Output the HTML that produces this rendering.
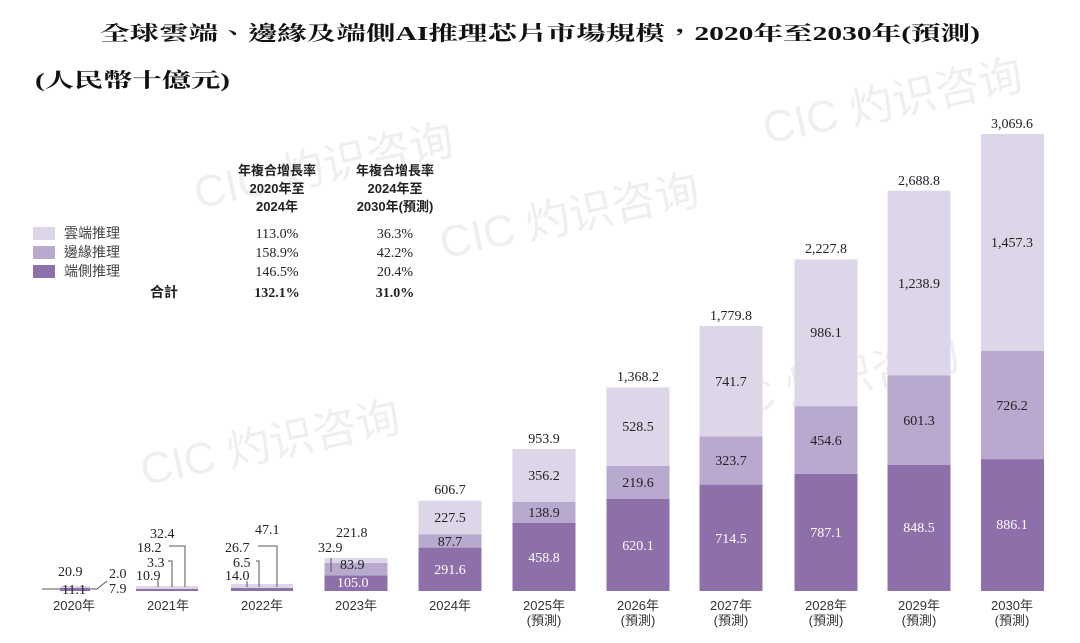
<!DOCTYPE html>
<html><head><meta charset="utf-8"><style>
html,body{margin:0;padding:0;background:#fff;}
svg{display:block;}
.t{font-family:"Liberation Serif","Noto Serif CJK SC",serif;font-size:14px;fill:#222;}
.w{font-family:"Liberation Serif",serif;font-size:14px;fill:#fff;}
.y{font-family:"Liberation Sans","Noto Sans CJK TC",sans-serif;font-size:13px;fill:#333;}
.wm{font-family:"Liberation Sans","Noto Sans CJK SC",sans-serif;fill:#efefef;}
</style></head><body>
<svg width="1080" height="643" viewBox="0 0 1080 643" xmlns="http://www.w3.org/2000/svg">
<g class="wm" font-size="44" transform="rotate(-12)">
<text x="150" y="245">CIC 灼识咨询</text>
<text x="380" y="345">CIC 灼识咨询</text>
<text x="40" y="505">CIC 灼识咨询</text>
<text x="720" y="300">CIC 灼识咨询</text>
<text x="600" y="560">CIC 灼识咨询</text>
<text x="800" y="145">CIC 灼识咨询</text>
</g>
<text x="540" y="40" text-anchor="middle" font-family="'Liberation Serif','Noto Serif CJK TC',serif" font-size="20" font-weight="bold" fill="#111" textLength="880" lengthAdjust="spacingAndGlyphs">全球雲端、邊緣及端側AI推理芯片市場規模，2020年至2030年(預測)</text>
<text x="35" y="87" font-family="'Liberation Serif','Noto Serif CJK TC',serif" font-size="20" font-weight="bold" fill="#111" textLength="195" lengthAdjust="spacingAndGlyphs">(人民幣十億元)</text>

<g font-family="'Liberation Sans','Noto Sans CJK TC',sans-serif" font-size="13" font-weight="bold" fill="#222" text-anchor="middle">
<text x="277" y="175">年複合增長率</text><text x="277" y="193">2020年至</text><text x="277" y="211">2024年</text>
<text x="395" y="175">年複合增長率</text><text x="395" y="193">2024年至</text><text x="395" y="211">2030年(預測)</text>
</g>
<rect x="33" y="227" width="22" height="13" fill="#dcd6e8"/>
<rect x="33" y="246" width="22" height="13" fill="#b9a9cf"/>
<rect x="33" y="265" width="22" height="13" fill="#8d6fa9"/>
<g font-family="'Liberation Sans','Noto Sans CJK TC',sans-serif" font-size="14" fill="#444">
<text x="64" y="238">雲端推理</text><text x="64" y="257">邊緣推理</text><text x="64" y="276">端側推理</text>
<text x="150" y="297" font-weight="bold" fill="#222">合計</text>
</g>
<g class="t" text-anchor="middle">
<text x="277" y="238">113.0%</text><text x="395" y="238">36.3%</text>
<text x="277" y="257">158.9%</text><text x="395" y="257">42.2%</text>
<text x="277" y="276">146.5%</text><text x="395" y="276">20.4%</text>
<text x="277" y="297" font-weight="bold">132.1%</text><text x="395" y="297" font-weight="bold">31.0%</text>
</g>

<rect x="60" y="588" width="30" height="3" fill="#8d6fa9"/>
<rect x="60" y="586" width="30" height="2" fill="#dcd6e8"/>
<line x1="42" y1="589" x2="60" y2="589" stroke="#555"/><line x1="90" y1="589" x2="97" y2="589" stroke="#555"/>
<line x1="97" y1="589" x2="107" y2="581" stroke="#555"/>
<g class="t"><text x="58" y="576">20.9</text><text x="62" y="594">11.1</text><text x="109" y="578">2.0</text><text x="109" y="593">7.9</text></g>

<rect x="136" y="589" width="62" height="2" fill="#8d6fa9"/><rect x="136" y="586" width="62" height="3" fill="#dcd6e8"/>
<g stroke="#555" fill="none"><path d="M158 587V580"/><path d="M172 587V561H168"/><path d="M185 587V546H169"/></g>
<g class="t"><text x="150" y="538">32.4</text><text x="137" y="552">18.2</text><text x="147" y="567">3.3</text><text x="136" y="580">10.9</text></g>

<rect x="231" y="588" width="62" height="3" fill="#8d6fa9"/><rect x="231" y="584" width="62" height="4" fill="#dcd6e8"/>
<g stroke="#555" fill="none"><path d="M247 587V581"/><path d="M259 587V561H256"/><path d="M277 587V546H258"/></g>
<g class="t"><text x="255" y="534">47.1</text><text x="225" y="552">26.7</text><text x="233" y="567">6.5</text><text x="225" y="580">14.0</text></g>

<rect x="324.5" y="575.4" width="63" height="15.6" fill="#8d6fa9"/>
<rect x="324.5" y="562.9" width="63" height="12.5" fill="#b9a9cf"/>
<rect x="324.5" y="558" width="63" height="4.9" fill="#dcd6e8"/>
<line x1="331" y1="572" x2="331" y2="558" stroke="#555"/>
<g class="t"><text x="336" y="537">221.8</text><text x="318" y="552">32.9</text><text x="340" y="569">83.9</text></g>
<text class="w" x="337" y="587">105.0</text>

<g>
<rect x="418.5" y="547.6" width="63" height="43.4" fill="#8d6fa9"/><rect x="418.5" y="534.5" width="63" height="13.1" fill="#b9a9cf"/><rect x="418.5" y="500.6" width="63" height="33.9" fill="#dcd6e8"/>
<rect x="512.5" y="522.7" width="63" height="68.3" fill="#8d6fa9"/><rect x="512.5" y="502" width="63" height="20.7" fill="#b9a9cf"/><rect x="512.5" y="449" width="63" height="53" fill="#dcd6e8"/>
<rect x="606.5" y="498.7" width="63" height="92.3" fill="#8d6fa9"/><rect x="606.5" y="466" width="63" height="32.7" fill="#b9a9cf"/><rect x="606.5" y="387.3" width="63" height="78.7" fill="#dcd6e8"/>
<rect x="699.5" y="484.6" width="63" height="106.4" fill="#8d6fa9"/><rect x="699.5" y="436.4" width="63" height="48.2" fill="#b9a9cf"/><rect x="699.5" y="326" width="63" height="110.4" fill="#dcd6e8"/>
<rect x="794.5" y="473.8" width="63" height="117.2" fill="#8d6fa9"/><rect x="794.5" y="406.1" width="63" height="67.7" fill="#b9a9cf"/><rect x="794.5" y="259.3" width="63" height="146.8" fill="#dcd6e8"/>
<rect x="887.5" y="464.7" width="63" height="126.3" fill="#8d6fa9"/><rect x="887.5" y="375.2" width="63" height="89.5" fill="#b9a9cf"/><rect x="887.5" y="190.7" width="63" height="184.5" fill="#dcd6e8"/>
<rect x="981" y="459.1" width="63" height="131.9" fill="#8d6fa9"/><rect x="981" y="351" width="63" height="108.1" fill="#b9a9cf"/><rect x="981" y="134" width="63" height="217" fill="#dcd6e8"/>
</g>
<g class="t" text-anchor="middle">
<text x="450" y="494">606.7</text><text x="450" y="522">227.5</text><text x="450" y="546">87.7</text>
<text x="544" y="443">953.9</text><text x="544" y="480">356.2</text><text x="544" y="517">138.9</text>
<text x="638" y="381">1,368.2</text><text x="638" y="431">528.5</text><text x="638" y="487">219.6</text>
<text x="731" y="320">1,779.8</text><text x="731" y="386">741.7</text><text x="731" y="465">323.7</text>
<text x="826" y="253">2,227.8</text><text x="826" y="337">986.1</text><text x="826" y="445">454.6</text>
<text x="919" y="185">2,688.8</text><text x="919" y="288">1,238.9</text><text x="919" y="425">601.3</text>
<text x="1012" y="128">3,069.6</text><text x="1012" y="247">1,457.3</text><text x="1012" y="410">726.2</text>
</g>
<g class="w" text-anchor="middle">
<text x="450" y="574">291.6</text><text x="544" y="562">458.8</text><text x="638" y="550">620.1</text>
<text x="731" y="543">714.5</text><text x="826" y="537">787.1</text><text x="919" y="532">848.5</text><text x="1012" y="529">886.1</text>
</g>
<g class="y" text-anchor="middle">
<text x="74" y="610">2020年</text><text x="168" y="610">2021年</text><text x="262" y="610">2022年</text><text x="356" y="610">2023年</text><text x="450" y="610">2024年</text>
<text x="544" y="610">2025年</text><text x="638" y="610">2026年</text><text x="731" y="610">2027年</text><text x="826" y="610">2028年</text><text x="919" y="610">2029年</text><text x="1012" y="610">2030年</text>
<text x="544" y="625">(預測)</text><text x="638" y="625">(預測)</text><text x="731" y="625">(預測)</text><text x="826" y="625">(預測)</text><text x="919" y="625">(預測)</text><text x="1012" y="625">(預測)</text>
</g>
</svg>
</body></html>
